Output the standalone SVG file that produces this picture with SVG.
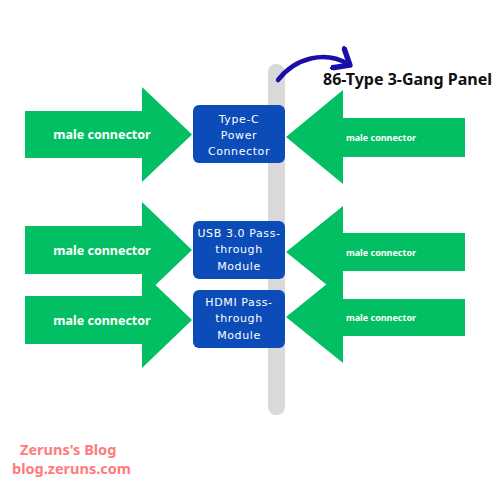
<svg xmlns="http://www.w3.org/2000/svg" width="500" height="500" viewBox="0 0 500 500">
<style>
.arr{fill:#02BF63}
.box{fill:#0B4CB8}
.bt{fill:#fff;font-family:"DejaVu Sans",sans-serif;font-size:11px;letter-spacing:0.6px;text-anchor:middle}
.lt{fill:#fff;font-family:"Noto Sans",sans-serif;font-weight:bold;font-size:12.5px;text-anchor:middle}
.rt{fill:#fff;font-family:"Noto Sans",sans-serif;font-weight:bold;font-size:9px;text-anchor:middle}
.wm{fill:#FF7B7B;font-family:"Noto Sans",sans-serif;font-weight:bold;font-size:14.5px}
</style>
<defs>
<marker id="ah" markerWidth="6" markerHeight="6" refX="3" refY="3" orient="auto" markerUnits="strokeWidth">
<path d="M0.5,0.5 L3.5,3 L0.5,5.5" fill="none" stroke="#1A0DA8" stroke-width="1.2" stroke-linejoin="round" stroke-linecap="round"/>
</marker>
</defs>
<rect width="500" height="500" fill="#fff"/>
<rect x="268" y="64" width="17" height="351" rx="8" fill="#D9D9D9"/>
<g id="connectors">
<path d="M278,80 C295,58 325,50 348,64" fill="none" stroke="#1A0DA8" stroke-width="4.5" stroke-linecap="round" marker-end="url(#ah)"/>
</g>
<g id="left1"><path class="arr" d="M25,111 H142 V87 L192,134.5 L142,182 V158 H25 Z"/><text class="lt" x="102" y="139">male connector</text></g>
<g id="left2"><path class="arr" d="M25,226 H142 V202 L192,250 L142,298 V274 H25 Z"/><text class="lt" x="102" y="254.5">male connector</text></g>
<g id="left3"><path class="arr" d="M25,296 H142 V272 L192,320 L142,368 V344 H25 Z"/><text class="lt" x="102" y="324.5">male connector</text></g>
<g id="right1"><path class="arr" d="M465,118 H343 V90 L286,137 L343,184 V157 H465 Z"/><text class="rt" x="381" y="140.5">male connector</text></g>
<g id="right2"><path class="arr" d="M465,233 H343 V206 L286,252 L343,298 V271 H465 Z"/><text class="rt" x="381" y="255.5">male connector</text></g>
<g id="right3"><path class="arr" d="M465,299 H343 V271 L286,317 L343,363 V336 H465 Z"/><text class="rt" x="381" y="320.5">male connector</text></g>
<g id="box1"><rect class="box" x="193" y="105" width="92" height="58" rx="6"/><text class="bt" x="239" y="123">Type-C</text><text class="bt" x="239" y="139">Power</text><text class="bt" x="239" y="155">Connector</text></g>
<g id="box2"><rect class="box" x="193" y="221" width="92" height="58" rx="6"/><text class="bt" x="239" y="237">USB 3.0 Pass-</text><text class="bt" x="239" y="253">through</text><text class="bt" x="239" y="270">Module</text></g>
<g id="box3"><rect class="box" x="193" y="290" width="92" height="58" rx="6"/><text class="bt" x="239" y="306">HDMI Pass-</text><text class="bt" x="239" y="322">through</text><text class="bt" x="239" y="339">Module</text></g>
<g id="title"><text x="323" y="85" font-family="Noto Sans, sans-serif" font-weight="bold" font-size="16" fill="#111">86-Type 3-Gang Panel</text></g>
<g id="watermark"><text class="wm" x="20" y="455">Zeruns's Blog</text><text class="wm" x="12" y="474">blog.zeruns.com</text></g>
</svg>
